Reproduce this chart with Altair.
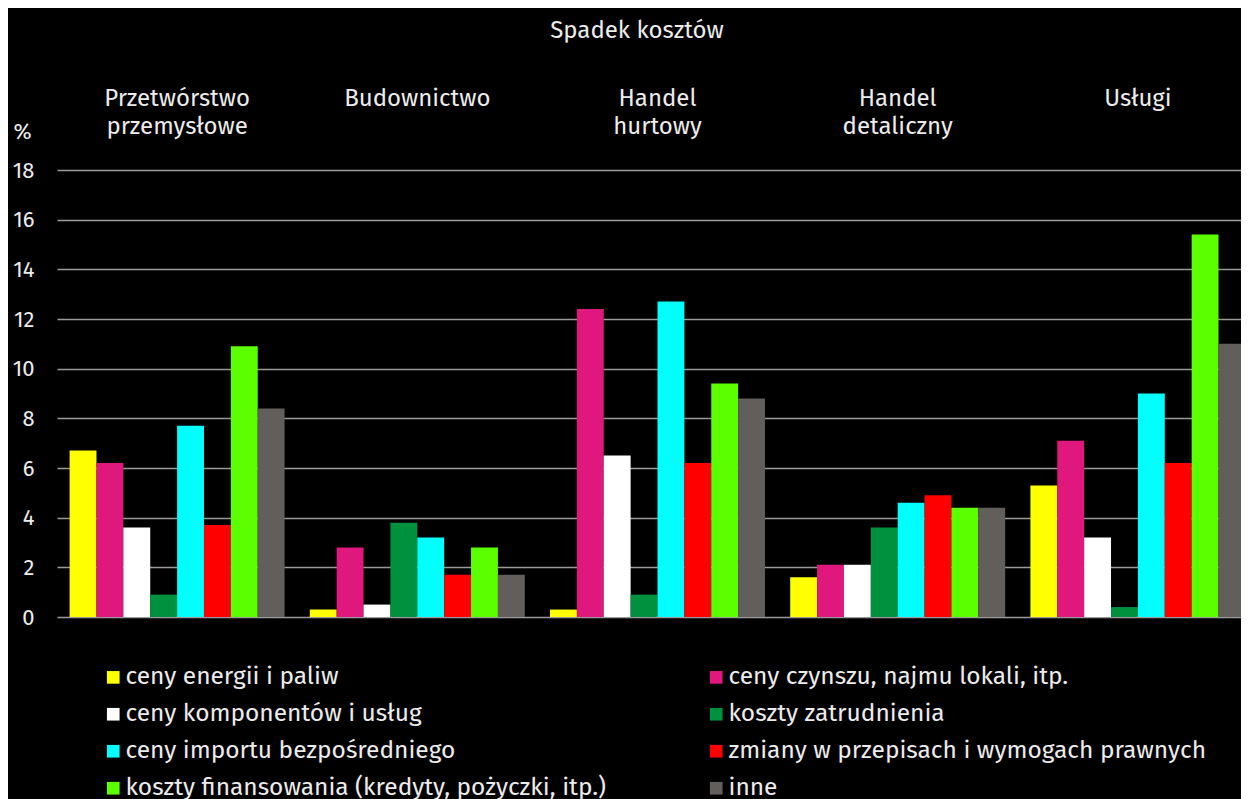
import altair as alt
import pandas as pd

sectors = ["Przetwórstwo przemysłowe", "Budownictwo", "Handel hurtowy",
           "Handel detaliczny", "Usługi"]
sector_lines = [["Przetwórstwo", "przemysłowe"], ["Budownictwo"], ["Handel", "hurtowy"],
                ["Handel", "detaliczny"], ["Usługi"]]

factors = ["ceny energii i paliw", "ceny czynszu, najmu lokali, itp.",
           "ceny komponentów i usług", "koszty zatrudnienia",
           "ceny importu bezpośredniego", "zmiany w przepisach i wymogach prawnych",
           "koszty finansowania (kredyty, pożyczki, itp.)", "inne"]
colors = ["#FFFF00", "#E0187E", "#FFFFFF", "#00913F",
          "#00FFFF", "#FF0000", "#5CFF00", "#625E5C"]

energy = [6.7, 0.3, 0.3, 1.6, 5.3]
rent = [6.2, 2.8, 12.4, 2.1, 7.1]
components = [3.6, 0.5, 6.5, 2.1, 3.2]
labour = [0.9, 3.8, 0.9, 3.6, 0.4]
imports = [7.7, 3.2, 12.7, 4.6, 9.0]
regulation = [3.7, 1.7, 6.2, 4.9, 6.2]
financing = [10.9, 2.8, 9.4, 4.4, 15.4]
other = [8.4, 1.7, 8.8, 4.4, 11.0]

series = [energy, rent, components, labour, imports, regulation, financing, other]
rows = []
for f, vals in zip(factors, series):
    for s, v in zip(sectors, vals):
        rows.append({"sector": s, "factor": f, "value": v})
df = pd.DataFrame(rows)
lab_df = pd.DataFrame({"sector": sectors, "lines": sector_lines})

FONT = "Fira Sans, Open Sans, Noto Sans, sans-serif"
TXT = "#ececec"

x_scale = alt.Scale(domain=sectors, range=[0, 1201], paddingInner=0.105, paddingOuter=0.0525)

bars = alt.Chart(df).mark_bar().encode(
    x=alt.X("sector:N", scale=x_scale, sort=sectors, axis=None),
    xOffset=alt.XOffset("factor:N", sort=factors,
                        scale=alt.Scale(domain=factors, paddingInner=0, paddingOuter=0)),
    y=alt.Y("value:Q", scale=alt.Scale(domain=[0, 18], nice=False),
            axis=alt.Axis(values=list(range(0, 19, 2)), title="%", titleAngle=0,
                          titleX=-35, titleY=-39, titleAlign="center",
                          titleBaseline="middle", titleFontSize=22,
                          titleFontWeight="normal", titleFont=FONT, titleColor=TXT,
                          labelFontSize=22, labelFont=FONT, labelColor=TXT,
                          labelPadding=23, ticks=False, domain=False,
                          grid=True, gridColor="#9a9a9a", gridWidth=1.5)),
    color=alt.Color("factor:N", sort=factors,
                    scale=alt.Scale(domain=factors, range=colors),
                    legend=alt.Legend(orient="none", legendX=44, legendY=495,
                                      columns=2, direction="horizontal",
                                      title=None, symbolType="square",
                                      symbolSize=160, symbolStrokeWidth=0,
                                      labelFontSize=24.5, labelFont=FONT,
                                      labelColor=TXT, labelOffset=0,
                                      rowPadding=12, columnPadding=97,
                                      labelLimit=800)),
)

labels = alt.Chart(lab_df).mark_text(baseline="top", fontSize=24, lineHeight=28,
                                     color=TXT, font=FONT).encode(
    x=alt.X("sector:N", scale=x_scale, sort=sectors, axis=None),
    y=alt.value(-83),
    text="lines",
)

chart = alt.layer(bars, labels).properties(
    width=1184, height=447,
    title=alt.TitleParams("Spadek kosztów", anchor="middle", fontSize=24,
                          font=FONT, fontWeight="normal", color=TXT, dx=-12,
                          offset=44),
    autosize=alt.AutoSizeParams(type="none"),
    padding={"left": 49, "top": 162, "right": 0, "bottom": 182},
).configure(background="#000000").configure_view(stroke=None)

chart.save("out.html", embed_options={"renderer": "svg", "actions": False})
